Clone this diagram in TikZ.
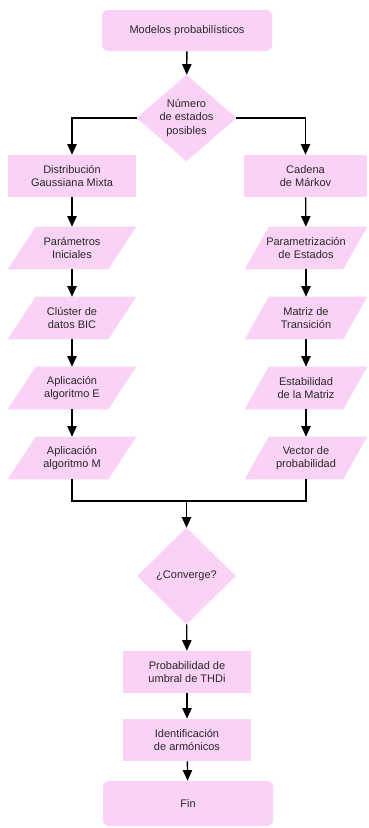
\documentclass[tikz,border=0pt]{standalone}
\usepackage{fontspec}
\setmainfont{Liberation Sans}
\usetikzlibrary{arrows.meta,backgrounds,calc}
\definecolor{pk}{RGB}{250,210,246}
\definecolor{tx}{RGB}{40,40,40}
\newcommand\parafill[2]{\fill[pk] ($(#1.north west)+(#2,0)$) -- (#1.north east) -- ($(#1.south east)-(#2,0)$) -- (#1.south west) -- cycle;}
\newcommand\diafill[1]{\fill[pk] (#1.north) -- (#1.east) -- (#1.south) -- (#1.west) -- cycle;}
\begin{document}
\begin{tikzpicture}[x=0.75pt,y=-0.75pt,
  base/.style={font=\fontsize{8.25pt}{9.9pt}\selectfont, text=tx, align=center, inner sep=0pt},
  sz/.style 2 args={minimum width=#1*0.75pt, minimum height=#2*0.75pt},
  rbox/.style={base, fill=pk},
  rrbox/.style={base, fill=pk, rounded corners=4.5pt},
  frame/.style={base},
  arr/.style={draw=black, line width=1pt, -{Triangle[length=8pt,width=7pt]}},
  ln/.style={draw=black, line width=1pt}]
\useasboundingbox (0,0) rectangle (368,828);

\node[rrbox, sz={170}{41}] (top) at (187,30.5) {Modelos probabilísticos};
\node[frame, sz={99}{86}] (d1) at (186.5,118) {Número\\de estados\\posibles};

\node[rbox, sz={128}{42}] (g) at (72,176) {Distribución\\Gaussiana Mixta};
\node[rbox, sz={123}{42}] (c) at (305.5,176) {Cadena\\de Márkov};

\node[frame, sz={128}{42}] (p1) at (72,248) {Parámetros\\Iniciales};
\node[frame, sz={128}{42}] (p2) at (72,318) {Clúster de\\datos BIC};
\node[frame, sz={128}{42}] (p3) at (72,388) {Aplicación\\algoritmo E};
\node[frame, sz={128}{42}] (p4) at (72,458) {Aplicación\\algoritmo M};

\node[frame, sz={122}{42}] (q1) at (306,248) {Parametrización\\de Estados};
\node[frame, sz={122}{42}] (q2) at (306,318) {Matriz de\\Transición};
\node[frame, sz={122}{42}] (q3) at (306,388) {Estabilidad\\de la Matriz};
\node[frame, sz={122}{42}] (q4) at (306,458) {Vector de\\probabilidad};

\coordinate (m) at (186.5,501);
\node[frame, sz={98}{96}] (d2) at (186.5,576) {¿Converge?};
\node[rbox, sz={128}{42}] (pr) at (187,672) {Probabilidad de\\umbral de THDi};
\node[rbox, sz={128}{42}] (id) at (187,740) {Identificación\\de armónicos};
\node[rrbox, sz={170}{45}] (fin) at (188,803.5) {Fin};

\begin{scope}[on background layer]
\diafill{d1}
\diafill{d2}
\parafill{p1}{28}
\parafill{p2}{28}
\parafill{p3}{28}
\parafill{p4}{28}
\parafill{q1}{24}
\parafill{q2}{24}
\parafill{q3}{24}
\parafill{q4}{24}
\end{scope}

\draw[arr] (top) -- (d1);
\draw[arr] (d1.west) -| (g.north);
\draw[arr] (d1.east) -| (c.north);
\draw[arr] (g) -- (p1);
\draw[arr] (p1) -- (p2);
\draw[arr] (p2) -- (p3);
\draw[arr] (p3) -- (p4);
\draw[arr] (c) -- (q1);
\draw[arr] (q1) -- (q2);
\draw[arr] (q2) -- (q3);
\draw[arr] (q3) -- (q4);
\draw[ln] (p4.south) |- (m);
\draw[ln] (q4.south) |- (m);
\draw[arr] (m) -- (d2.north);
\draw[arr] (d2) -- (pr);
\draw[arr] (pr) -- (id);
\draw[arr] (id) -- (fin);
\end{tikzpicture}
\end{document}
